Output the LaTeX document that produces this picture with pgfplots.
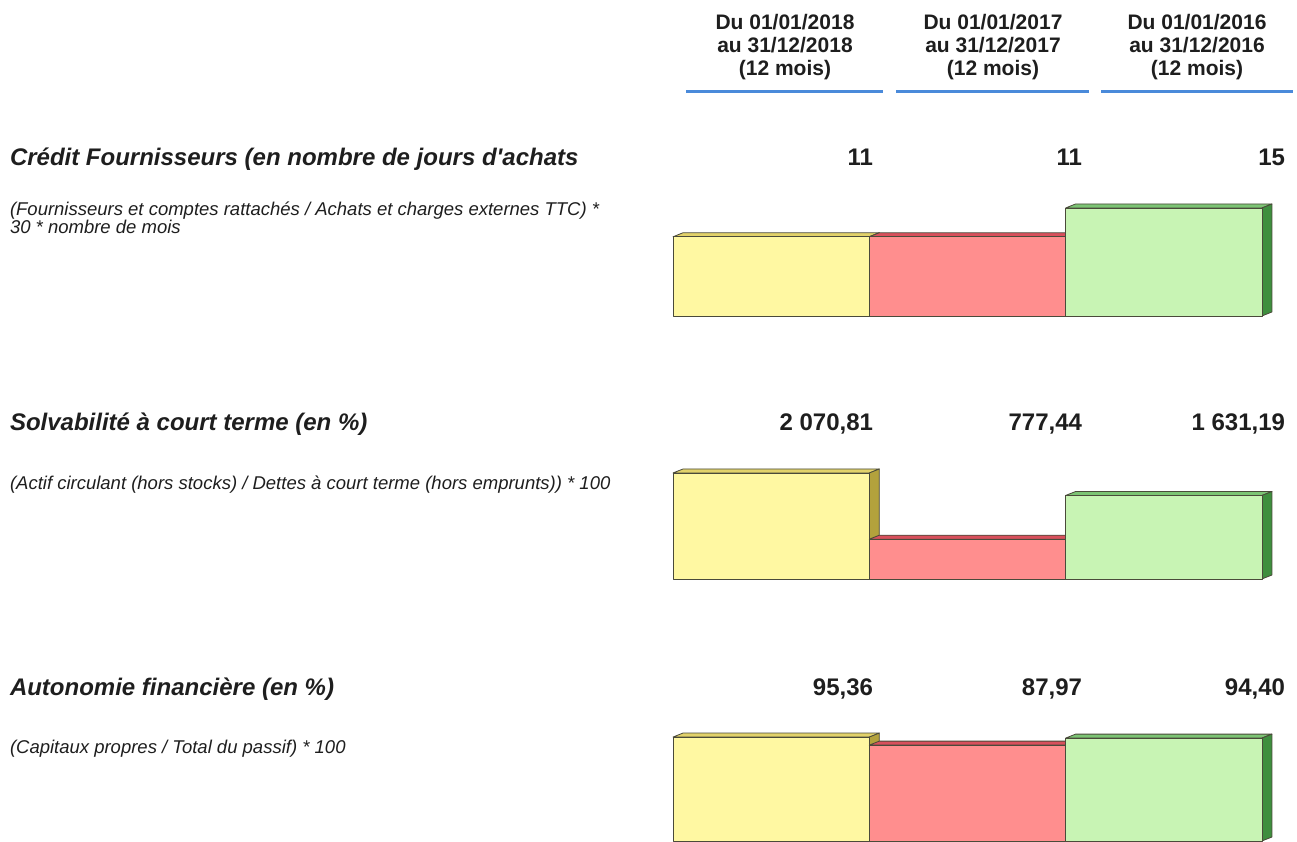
\documentclass[border=0pt]{standalone}
\usepackage{pgfplots}
\pgfplotsset{compat=1.18}
\usepackage{fontspec}
\setmainfont{Liberation Sans}
\definecolor{txt}{HTML}{1E1E1E}
\definecolor{yfront}{HTML}{FFF8A2}
\definecolor{ytop}{HTML}{E2D26A}
\definecolor{yside}{HTML}{B3A23C}
\definecolor{rfront}{HTML}{FF8E8E}
\definecolor{rtop}{HTML}{D8505C}
\definecolor{rside}{HTML}{B83444}
\definecolor{gfront}{HTML}{C8F4B4}
\definecolor{gtop}{HTML}{7CC474}
\definecolor{gside}{HTML}{3E8E3E}
\definecolor{edge}{HTML}{4A4A3A}
\definecolor{hblue}{HTML}{4A8ADA}
\newcommand\tfont{\fontsize{24}{28}\selectfont\bfseries\itshape}
\newcommand\vfont{\fontsize{24}{28}\selectfont\bfseries}
\newcommand\sfont{\fontsize{18.5}{22}\selectfont\itshape}
\newcommand\hfont{\fontsize{21}{23.3}\selectfont\bfseries}
\pgfplotsset{
  barpanel/.style={hide axis, clip=false, x=196.3pt, xmin=0, xmax=3, ymin=0,
    anchor=south west},
  face/.style={draw=edge, line width=0.8pt, line join=round, mark=none}
}
\begin{document}
\begin{tikzpicture}[x=1pt,y=1pt, every node/.style={inner sep=0pt, outer sep=0pt, text=txt}]
% header
\foreach \cx/\yr in {785/2018, 993/2017, 1197/2016}{
  \node[anchor=base, font=\hfont] at (\cx, 842-30) {Du 01/01/\yr};
  \node[anchor=base, font=\hfont] at (\cx, 842-53) {au 31/12/\yr};
  \node[anchor=base, font=\hfont] at (\cx, 842-76) {(12 mois)};
}
\draw[hblue, line width=3pt] (686,842-92) -- (883,842-92);
\draw[hblue, line width=3pt] (896,842-92) -- (1089,842-92);
\draw[hblue, line width=3pt] (1101,842-92) -- (1293,842-92);
% titles
\node[anchor=base west, font=\tfont] at (10, 842-166) {Crédit Fournisseurs (en nombre de jours d\textquotesingle achats};
\node[anchor=base west, font=\sfont] at (10, 842-216) {(Fournisseurs et comptes rattachés / Achats et charges externes TTC) *};
\node[anchor=base west, font=\sfont] at (10, 842-234) {30 * nombre de mois};
\node[anchor=base west, font=\tfont] at (10, 842-431) {Solvabilité à court terme (en \%)};
\node[anchor=base west, font=\sfont] at (10, 842-490) {(Actif circulant (hors stocks) / Dettes à court terme (hors emprunts)) * 100};
\node[anchor=base west, font=\tfont] at (10, 842-696) {Autonomie financière (en \%)};
\node[anchor=base west, font=\sfont] at (10, 842-754) {(Capitaux propres / Total du passif) * 100};
% values
\node[anchor=base east, font=\vfont] at (873, 842-166) {11};
\node[anchor=base east, font=\vfont] at (1082, 842-166) {11};
\node[anchor=base east, font=\vfont] at (1285, 842-166) {15};
\node[anchor=base east, font=\vfont] at (873, 842-431) {2 070,81};
\node[anchor=base east, font=\vfont] at (1082, 842-431) {777,44};
\node[anchor=base east, font=\vfont] at (1285, 842-431) {1 631,19};
\node[anchor=base east, font=\vfont] at (873, 842-696) {95,36};
\node[anchor=base east, font=\vfont] at (1082, 842-696) {87,97};
\node[anchor=base east, font=\vfont] at (1285, 842-696) {94,40};

% Panel 1: 11, 11, 15
\begin{axis}[barpanel, y=7.2pt, ymax=16, at={(673pt,526pt)}]
\addplot[face, fill=ytop] coordinates {(0,11)(0.051,11.56)(1.051,11.56)(1,11)} -- cycle;
\addplot[face, fill=yside] coordinates {(1,0)(1.051,0.56)(1.051,11.56)(1,11)} -- cycle;
\addplot[face, fill=yfront] coordinates {(0,0)(0,11)(1,11)(1,0)} -- cycle;
\addplot[face, fill=rtop] coordinates {(1,11)(1.051,11.56)(2.051,11.56)(2,11)} -- cycle;
\addplot[face, fill=rside] coordinates {(2,0)(2.051,0.56)(2.051,11.56)(2,11)} -- cycle;
\addplot[face, fill=rfront] coordinates {(1,0)(1,11)(2,11)(2,0)} -- cycle;
\addplot[face, fill=gtop] coordinates {(2,15)(2.051,15.56)(3.051,15.56)(3,15)} -- cycle;
\addplot[face, fill=gside] coordinates {(3,0)(3.051,0.56)(3.051,15.56)(3,15)} -- cycle;
\addplot[face, fill=gfront] coordinates {(2,0)(2,15)(3,15)(3,0)} -- cycle;
\end{axis}

% Panel 2: 2070.81, 777.44, 1631.19
\begin{axis}[barpanel, y=0.0512pt, ymax=2200, at={(673pt,263pt)}]
\addplot[face, fill=ytop] coordinates {(0,2070.81)(0.051,2148.81)(1.051,2148.81)(1,2070.81)} -- cycle;
\addplot[face, fill=yside] coordinates {(1,0)(1.051,78)(1.051,2148.81)(1,2070.81)} -- cycle;
\addplot[face, fill=yfront] coordinates {(0,0)(0,2070.81)(1,2070.81)(1,0)} -- cycle;
\addplot[face, fill=rtop] coordinates {(1,777.44)(1.051,855.44)(2.051,855.44)(2,777.44)} -- cycle;
\addplot[face, fill=rside] coordinates {(2,0)(2.051,78)(2.051,855.44)(2,777.44)} -- cycle;
\addplot[face, fill=rfront] coordinates {(1,0)(1,777.44)(2,777.44)(2,0)} -- cycle;
\addplot[face, fill=gtop] coordinates {(2,1631.19)(2.051,1709.19)(3.051,1709.19)(3,1631.19)} -- cycle;
\addplot[face, fill=gside] coordinates {(3,0)(3.051,78)(3.051,1709.19)(3,1631.19)} -- cycle;
\addplot[face, fill=gfront] coordinates {(2,0)(2,1631.19)(3,1631.19)(3,0)} -- cycle;
\end{axis}

% Panel 3: 95.36, 87.97, 94.40
\begin{axis}[barpanel, y=1.09pt, ymax=100, at={(673pt,1pt)}]
\addplot[face, fill=ytop] coordinates {(0,95.36)(0.051,99.03)(1.051,99.03)(1,95.36)} -- cycle;
\addplot[face, fill=yside] coordinates {(1,0)(1.051,3.67)(1.051,99.03)(1,95.36)} -- cycle;
\addplot[face, fill=yfront] coordinates {(0,0)(0,95.36)(1,95.36)(1,0)} -- cycle;
\addplot[face, fill=rtop] coordinates {(1,87.97)(1.051,91.64)(2.051,91.64)(2,87.97)} -- cycle;
\addplot[face, fill=rside] coordinates {(2,0)(2.051,3.67)(2.051,91.64)(2,87.97)} -- cycle;
\addplot[face, fill=rfront] coordinates {(1,0)(1,87.97)(2,87.97)(2,0)} -- cycle;
\addplot[face, fill=gtop] coordinates {(2,94.40)(2.051,98.07)(3.051,98.07)(3,94.40)} -- cycle;
\addplot[face, fill=gside] coordinates {(3,0)(3.051,3.67)(3.051,98.07)(3,94.40)} -- cycle;
\addplot[face, fill=gfront] coordinates {(2,0)(2,94.40)(3,94.40)(3,0)} -- cycle;
\end{axis}
\pgfresetboundingbox
\useasboundingbox (0,0) rectangle (1297,842);
\end{tikzpicture}
\end{document}
